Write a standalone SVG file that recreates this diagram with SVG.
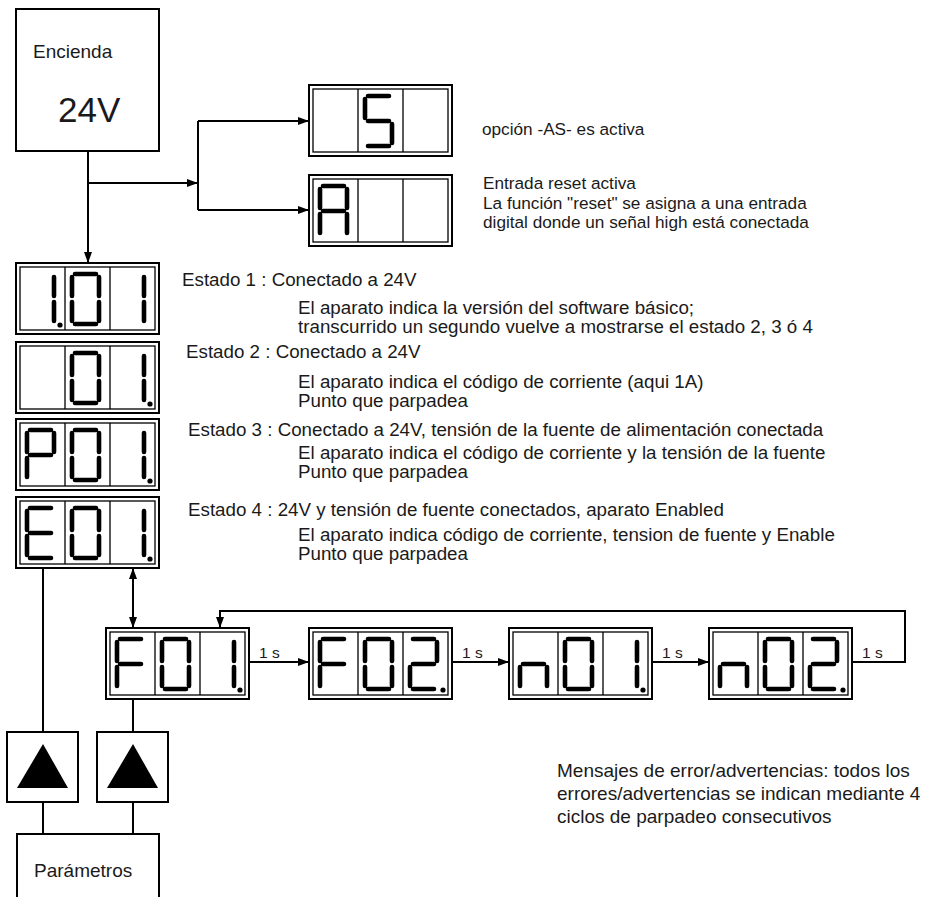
<svg xmlns="http://www.w3.org/2000/svg" width="925" height="897" viewBox="0 0 925 897">
<style>
.t{font-family:"Liberation Sans",Arial,sans-serif;fill:#1a1a1a}
.st{font-size:18.75px}
.rt{font-size:17.2px}
.ln{stroke:#000;stroke-width:2;fill:none}
.seg{stroke:#000;stroke-width:4.6;stroke-linecap:round;fill:none}
.dout{fill:#fff;stroke:#000;stroke-width:2}
.din{fill:none;stroke:#000;stroke-width:1.3}
.box{fill:#fff;stroke:#000;stroke-width:2}
</style>
<defs>
<marker id="ah" viewBox="0 0 11 8" refX="11" refY="4" markerWidth="11" markerHeight="8" markerUnits="userSpaceOnUse" orient="auto-start-reverse"><path d="M0,0 L11,4 L0,8 Z" fill="#000"/></marker>
<g id="disp"><rect class="dout" x="0" y="0" width="143" height="71"/><rect class="din" x="4" y="4" width="135" height="63"/><path class="din" d="M49,4V67M94,4V67"/></g>
<path id="c0" class="seg" d="M3,0H24M27,3V22M27,28V47M3,50H24M0,28V47M0,3V22"/>
<path id="c1" class="seg" d="M27,3V22M27,28V47"/>
<path id="c2" class="seg" d="M3,0H24M27,3V22M3,25H24M0,28V47M3,50H24"/>
<path id="cS" class="seg" d="M3,0H24M0,3V22M3,25H24M27,28V47M3,50H24"/>
<path id="cA" class="seg" d="M3,0H24M27,3V22M27,28V47M0,28V47M0,3V22M3,25H24"/>
<path id="cP" class="seg" d="M3,0H24M27,3V22M0,3V22M3,25H24M0,28V47"/>
<path id="cE" class="seg" d="M3,0H24M0,3V22M3,25H24M0,28V47M3,50H24"/>
<path id="cF" class="seg" d="M3,0H24M0,3V22M3,25H24M0,28V47"/>
<path id="cn" class="seg" d="M3,25H24M0,28V47M27,28V47"/>
</defs>
<rect width="925" height="897" fill="#fff"/>

<g id="connectors">
<path class="ln" d="M88,151V263" marker-end="url(#ah)"/>
<path class="ln" d="M88,183H198" marker-end="url(#ah)"/>
<path class="ln" d="M198,121V210"/>
<path class="ln" d="M198,121H309" marker-end="url(#ah)"/>
<path class="ln" d="M198,210H309" marker-end="url(#ah)"/>
<path class="ln" d="M43,568V732"/>
<path class="ln" d="M133,568V628" marker-start="url(#ah)" marker-end="url(#ah)"/>
<path class="ln" d="M133,699V732"/>
<path class="ln" d="M43,802V834M133,802V834"/>
<path class="ln" d="M249,662H309" marker-end="url(#ah)"/>
<path class="ln" d="M452,662H509" marker-end="url(#ah)"/>
<path class="ln" d="M652,662H709" marker-end="url(#ah)"/>
<path class="ln" d="M852,662H905V611H220V628" marker-end="url(#ah)"/>
<text class="t" x="259" y="658" font-size="15.5">1 s</text>
<text class="t" x="462" y="658" font-size="15.5">1 s</text>
<text class="t" x="662" y="658" font-size="15.5">1 s</text>
<text class="t" x="862" y="658" font-size="15.5">1 s</text>
</g>

<g id="encienda">
<rect class="box" x="16" y="9" width="143" height="142"/>
<text class="t" x="33" y="58" font-size="19">Encienda</text>
<text class="t" x="58" y="122" font-size="35">24V</text>
</g>

<g id="dispS">
<use href="#disp" x="309" y="85"/>
<use href="#cS" x="365" y="96"/>
<text class="t rt" x="482" y="135">opción -AS- es activa</text>
</g>

<g id="dispA">
<use href="#disp" x="309" y="175"/>
<use href="#cA" x="320" y="186"/>
<text class="t rt" x="483" y="189">Entrada reset activa</text>
<text class="t rt" x="483" y="209">La función "reset" se asigna a una entrada</text>
<text class="t rt" x="483" y="228">digital donde un señal high está conectada</text>
</g>

<g id="estado1">
<use href="#disp" x="16" y="263"/>
<use href="#c1" x="27" y="274"/><circle cx="60" cy="325" r="2.6"/>
<use href="#c0" x="72" y="274"/>
<use href="#c1" x="117" y="274"/>
<text class="t st" x="182" y="286">Estado 1 : Conectado a 24V</text>
<text class="t st" x="298" y="314">El aparato indica la versión del software básico;</text>
<text class="t st" x="298" y="333">transcurrido un segundo vuelve a mostrarse el estado 2, 3 ó 4</text>
</g>

<g id="estado2">
<use href="#disp" x="16" y="342"/>
<use href="#c0" x="72" y="353"/>
<use href="#c1" x="117" y="353"/><circle cx="150" cy="404" r="2.6"/>
<text class="t st" x="186" y="358">Estado 2 : Conectado a 24V</text>
<text class="t st" x="298" y="388">El aparato indica el código de corriente (aqui 1A)</text>
<text class="t st" x="298" y="407">Punto que parpadea</text>
</g>

<g id="estado3">
<use href="#disp" x="16" y="419"/>
<use href="#cP" x="27" y="430"/>
<use href="#c0" x="72" y="430"/>
<use href="#c1" x="117" y="430"/><circle cx="150" cy="481" r="2.6"/>
<text class="t st" x="188" y="436">Estado 3 : Conectado a 24V, tensión de la fuente de alimentación conectada</text>
<text class="t st" x="298" y="459">El aparato indica el código de corriente y la tensión de la fuente</text>
<text class="t st" x="298" y="478">Punto que parpadea</text>
</g>

<g id="estado4">
<use href="#disp" x="16" y="497"/>
<use href="#cE" x="27" y="508"/>
<use href="#c0" x="72" y="508"/>
<use href="#c1" x="117" y="508"/><circle cx="150" cy="559" r="2.6"/>
<text class="t st" x="188" y="516">Estado 4 : 24V y tensión de fuente conectados, aparato Enabled</text>
<text class="t st" x="298" y="541">El aparato indica código de corriente, tension de fuente y Enable</text>
<text class="t st" x="298" y="560">Punto que parpadea</text>
</g>

<g id="F01">
<use href="#disp" x="106" y="628"/>
<use href="#cF" x="117" y="639"/>
<use href="#c0" x="162" y="639"/>
<use href="#c1" x="207" y="639"/><circle cx="240" cy="690" r="2.6"/>
</g>
<g id="F02">
<use href="#disp" x="309" y="628"/>
<use href="#cF" x="320" y="639"/>
<use href="#c0" x="365" y="639"/>
<use href="#c2" x="410" y="639"/><circle cx="443" cy="690" r="2.6"/>
</g>
<g id="n01">
<use href="#disp" x="509" y="628"/>
<use href="#cn" x="520" y="639"/>
<use href="#c0" x="565" y="639"/>
<use href="#c1" x="610" y="639"/><circle cx="643" cy="690" r="2.6"/>
</g>
<g id="n02">
<use href="#disp" x="709" y="628"/>
<use href="#cn" x="720" y="639"/>
<use href="#c0" x="765" y="639"/>
<use href="#c2" x="810" y="639"/><circle cx="843" cy="690" r="2.6"/>
</g>

<g id="mensajes">
<text class="t" x="557" y="777" font-size="19">Mensajes de error/advertencias: todos los</text>
<text class="t" x="557" y="800" font-size="19">errores/advertencias se indican mediante 4</text>
<text class="t" x="557" y="823" font-size="19">ciclos de parpadeo consecutivos</text>
</g>

<g id="up1">
<rect class="box" x="7" y="732" width="71" height="70"/>
<path d="M43,744L17,788H68Z" fill="#000"/>
</g>
<g id="up2">
<rect class="box" x="97" y="732" width="71" height="70"/>
<path d="M133,744L107,788H158Z" fill="#000"/>
</g>

<g id="parametros">
<rect class="box" x="17" y="834" width="142" height="75"/>
<text class="t" x="34" y="877" font-size="19">Parámetros</text>
</g>
</svg>
